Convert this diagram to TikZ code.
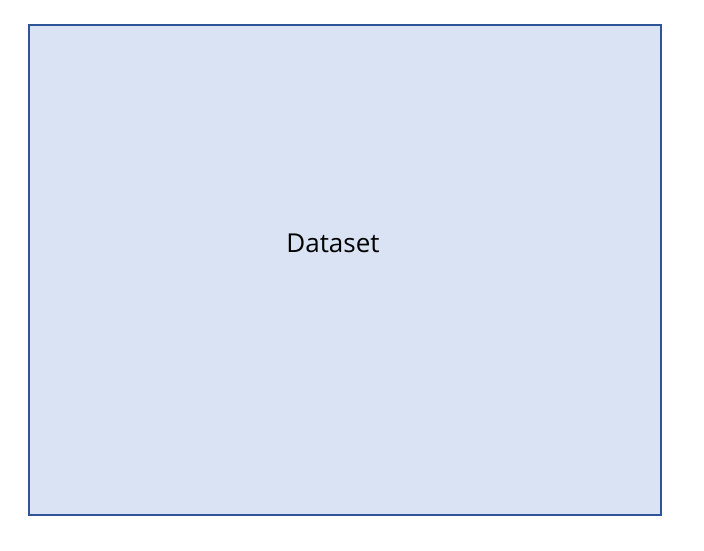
\documentclass[tikz,border=0pt]{standalone}
\usepackage{fontspec}
\setmainfont{Open Sans}
\definecolor{boxfill}{HTML}{DAE3F3}
\definecolor{boxline}{HTML}{2F5597}
\tikzset{databox/.style={draw=boxline, fill=boxfill, line width=1.5pt, minimum width=632pt, minimum height=490pt, inner sep=0pt}}
\begin{document}
\begin{tikzpicture}[x=1pt,y=-1pt]
\useasboundingbox (0,0) rectangle (704,550);
\node[databox] (ds) at (345,270) {};
\node[font=\fontsize{26}{30}\selectfont] (lbl) at (333,243) {Dataset};
\end{tikzpicture}
\end{document}
